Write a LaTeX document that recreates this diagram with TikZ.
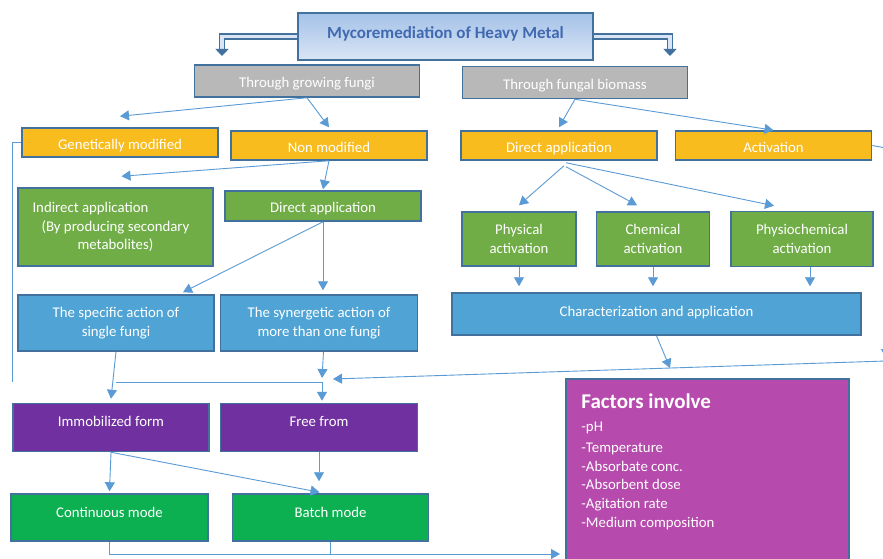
\documentclass[tikz,border=0pt]{standalone}
\usepackage{fontspec}
\setmainfont{Carlito}
\usetikzlibrary{positioning,calc,arrows.meta}
\definecolor{bordc}{HTML}{41719C}
\definecolor{linkc}{HTML}{5B9BD5}
\definecolor{titletop}{HTML}{A4C2E8}
\definecolor{titlebot}{HTML}{DAE5F5}
\definecolor{titletext}{HTML}{4169B0}
\definecolor{grayc}{HTML}{B8B8B8}
\definecolor{goldc}{HTML}{F8BC1E}
\definecolor{leafc}{HTML}{70AD47}
\definecolor{skyc}{HTML}{4FA4D5}
\definecolor{plumc}{HTML}{7030A0}
\definecolor{mintc}{HTML}{0CB050}
\definecolor{orchidc}{HTML}{B64AAD}

\begin{document}
\begin{tikzpicture}[x=1pt, y=-1pt,
  box/.style={draw=bordc, line width=1.5pt, text=white, inner sep=2pt, align=center, font=\fontsize{14.8}{18.5}\selectfont},
  titlebox/.style={box, top color=titletop, bottom color=titlebot, text=titletext, font=\fontsize{17}{20}\selectfont\bfseries, minimum width=295, minimum height=47, text depth=7pt},
  graybox/.style={box, fill=grayc, minimum width=225, minimum height=32, text height=17pt, text depth=3pt},
  goldbox/.style={box, fill=goldc, minimum width=196, minimum height=29, text height=17pt, text depth=3pt},
  leafbox/.style={box, fill=leafc},
  skybox/.style={box, fill=skyc, minimum height=56},
  plumbox/.style={box, fill=plumc, minimum width=196, minimum height=48, text depth=12pt},
  mintbox/.style={box, fill=mintc, minimum width=197, minimum height=47, text depth=11pt},
  factbox/.style={draw=bordc, line width=1.5pt, fill=orchidc, minimum width=283, minimum height=184},
  link/.style={draw=linkc, line width=0.9pt, -{Triangle[length=9pt,width=10pt]}},
  wire/.style={draw=linkc, line width=0.9pt},
  bigarrow/.style={draw=bordc, line width=1.4pt, double=titlebot, double distance=3.5pt, -{Triangle[length=7pt,width=13pt]}}]

\useasboundingbox (0,0) rectangle (883,559);
\fill[white] (0,0) rectangle (883,559);
\clip (0,0) rectangle (883,559);

\node[titlebox] (title) at (445.5,36.5) {Mycoremediation of Heavy Metal};
\node[graybox] (growing) at (307,81) {Through growing fungi};
\node[graybox] (biomass) at (575,82.5) {Through fungal biomass};

\node[goldbox] (genmod) at (120,142.5) {Genetically modified};
\node[goldbox] (nonmod) at (329,145.5) {Non modified};
\node[goldbox] (dirapp) at (559,145.5) {Direct application};
\node[goldbox] (activation) [right=17 of dirapp] {Activation};

\node[leafbox, minimum width=195, minimum height=78] (indirect) at (115.5,227) {\makebox[166pt][l]{Indirect application}\\(By producing secondary\\metabolites)};
\node[leafbox, minimum width=196, minimum height=30, text height=15pt, text depth=3pt] (direct) at (323,206) {Direct application};
\node[leafbox, minimum width=114, minimum height=54] (physical) at (519,239) {Physical\\activation};
\node[leafbox, minimum width=113, minimum height=54] (chemical) [right=19 of physical] {Chemical\\activation};
\node[leafbox, minimum width=142, minimum height=55] (physio) [right=20 of chemical] {Physiochemical\\activation};

\node[skybox, minimum width=196] (specific) at (116,323) {The specific action of\\single fungi};
\node[skybox, minimum width=197] (synergetic) [right=5 of specific] {The synergetic action of\\more than one fungi};
\node[box, fill=skyc, minimum width=409, minimum height=42, text depth=6pt] (charact) at (656.5,314) {Characterization and application};

\node[plumbox] (immob) at (111,427.5) {Immobilized form};
\node[plumbox, minimum width=197] (free) [right=10 of immob] {Free from};
\node[mintbox] (continuous) at (109.5,517.5) {Continuous mode};
\node[mintbox, minimum width=196] (batch) [right=23 of continuous] {Batch mode};

\node[factbox] (factors) at (707.5,471) {};
\node[anchor=north west, align=left, text=white, inner sep=3pt, font=\fontsize{14.8}{18.7}\selectfont] (factlist) at ([xshift=13pt,yshift=-12pt]factors.north west) {{\fontsize{21}{24}\selectfont\bfseries Factors involve}\\[5pt]-pH\\[2pt]-Temperature\\-Absorbate conc.\\-Absorbent dose\\-Agitation rate\\-Medium composition};

\coordinate (bigL) at (222,56);
\coordinate (bigR) at (670,56);
\coordinate (rtop) at (886,148);
\coordinate (rjoin) at (886,361);
\coordinate (mergeR) at (333,379);
\coordinate (charend) at (670,368);
\coordinate (junc) at (322,382);
\coordinate (lbot) at (12,382);
\coordinate (fin) at (560,554);

\draw[bigarrow] (title.west) -| (bigL);
\draw[bigarrow] (title.east) -| (bigR);

\draw[link] (growing.south) -- ([yshift=11pt]genmod.north);
\draw[link] (growing.south) -- ([yshift=3pt]nonmod.north);
\draw[link] (biomass.south) -- ([yshift=3pt]dirapp.north);
\draw[link] (biomass.south) -- (activation.north);

\draw[link] (nonmod.south) -- ([xshift=6pt,yshift=11pt]indirect.north);
\draw[link] (nonmod.south) -- ([yshift=1pt]direct.north);
\draw[wire] (genmod.west) -- (genmod.west -| lbot) -- (lbot);

\draw[link] ([xshift=5pt,yshift=-5pt]dirapp.south) -- ([yshift=6pt]physical.north);
\draw[link] ([xshift=7pt,yshift=-6pt]dirapp.south) -- ([xshift=-16pt,yshift=6pt]chemical.north);
\draw[link] ([xshift=7pt,yshift=-2pt]dirapp.south) -- ([xshift=-28pt,yshift=5pt]physio.north);
\draw[link] (physical.south) -- ([yshift=6pt]physical.south |- charact.north);
\draw[link] (chemical.south) -- ([yshift=6pt]chemical.south |- charact.north);
\draw[link] ([xshift=8pt]physio.south) -- ([xshift=8pt,yshift=6pt]physio.south |- charact.north);

\draw[link] (direct.south) -- ([xshift=67pt,yshift=2pt]specific.north);
\draw[link] (direct.south) -- ($(direct.south |- synergetic.north)+(0,-4)$);

\draw[wire] (activation.east) -- (rtop);
\draw[link] (rtop) -- ([yshift=3pt]rjoin);
\draw[link] (rjoin) -- (mergeR);
\draw[link] (charact.south) -- (charend);

\draw[link] (specific.south) -- ([yshift=4pt]immob.north);
\draw[link] ([xshift=4.5pt]synergetic.south) -- ([yshift=4pt]junc);
\draw[wire] (junc) -- (junc -| specific.south);
\draw[link] (junc) -- ([yshift=2pt]junc |- free.north);

\draw[link] (immob.south) -- ([yshift=2pt]continuous.north);
\draw[link] (immob.south) -- ([xshift=-11pt,yshift=1pt]batch.north);
\draw[link] (free.south) -- ([yshift=12pt]free.south |- batch.north);

\draw[link] (continuous.south) |- (fin);
\draw[wire] (batch.south) -- (batch.south |- fin);
\end{tikzpicture}
\end{document}
